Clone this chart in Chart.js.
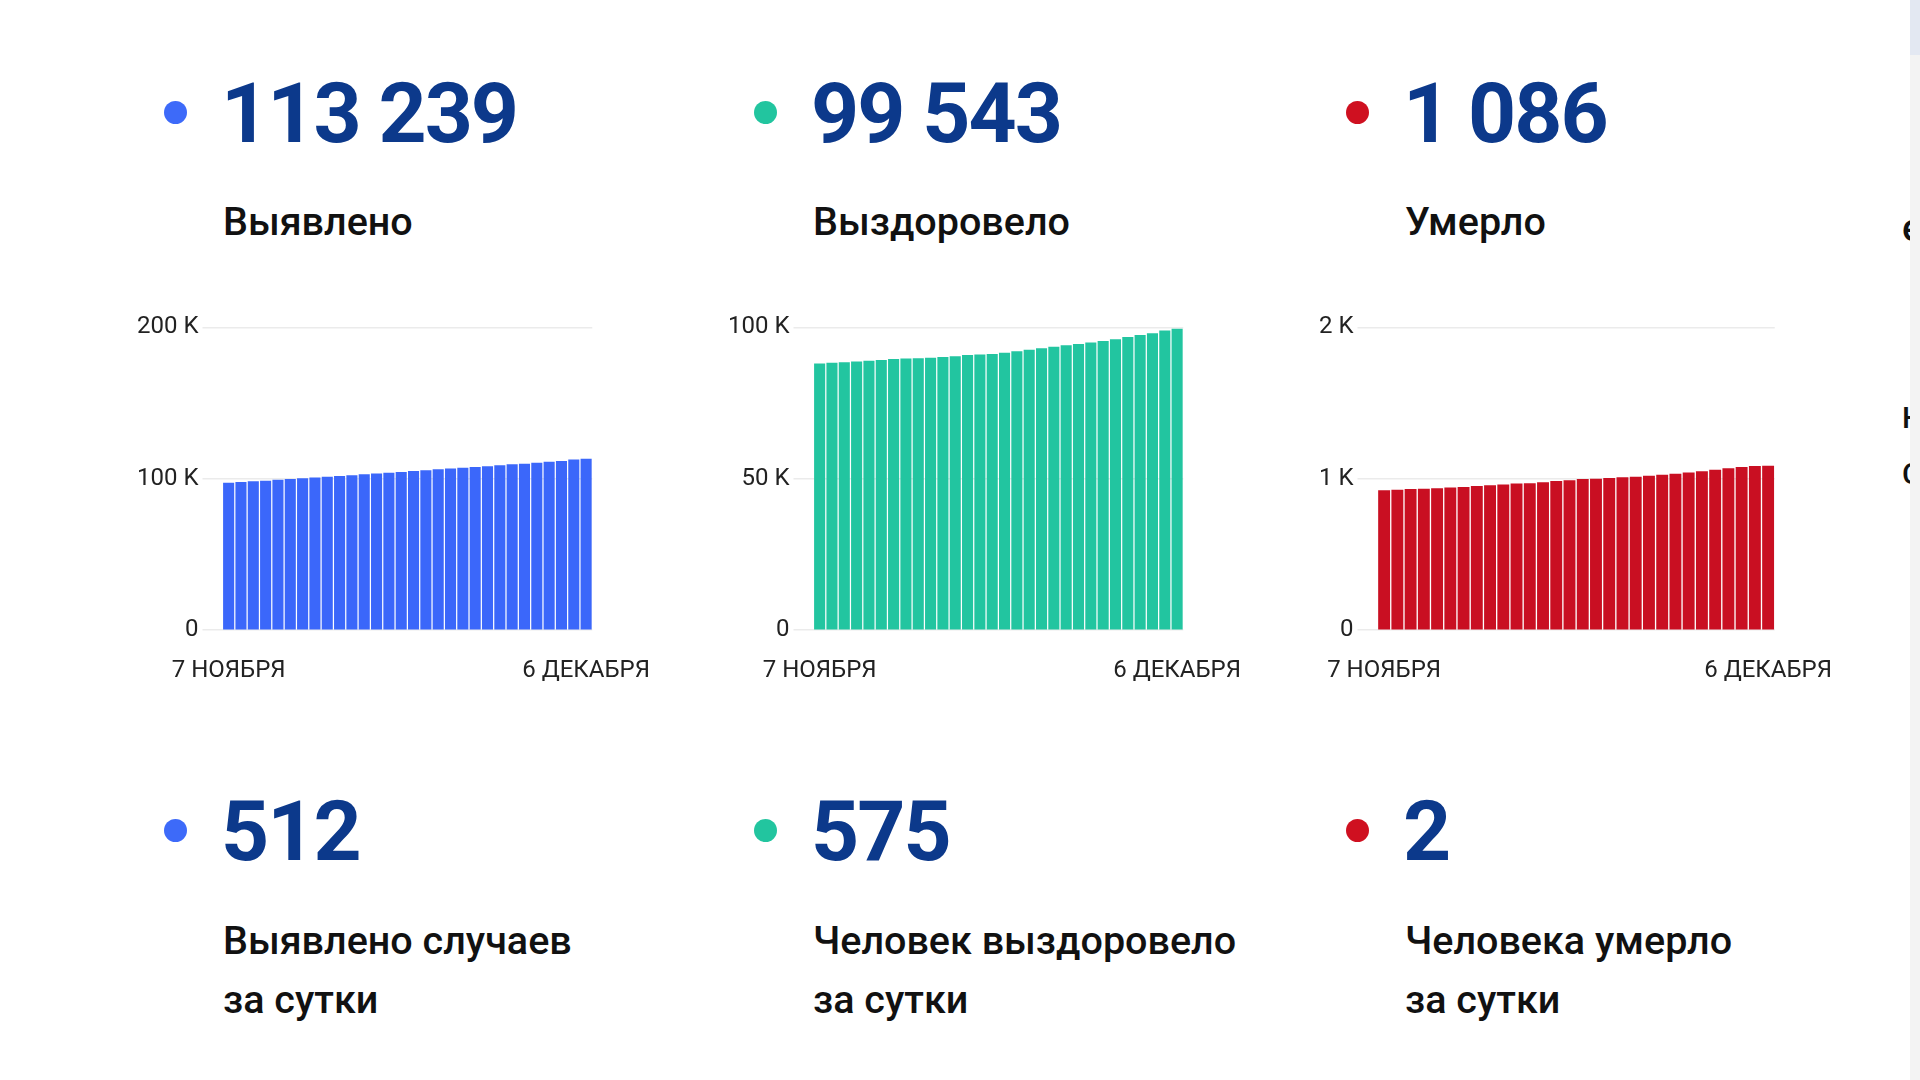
<!DOCTYPE html>
<html lang="ru">
<head>
<meta charset="utf-8">
<title>Коронавирус: статистика</title>
<script src="https://cdn.jsdelivr.net/npm/chart.js@4/dist/chart.umd.min.js"></script>
<style>
  html, body {
    margin: 0;
    width: 1920px;
    height: 1080px;
    background: #ffffff;
    overflow: hidden;
    font-family: Roboto, "Noto Sans", sans-serif;
  }
  .dot {
    position: absolute;
    width: 23px;
    height: 23px;
    border-radius: 50%;
  }
  .num {
    position: absolute;
    font-weight: 700;
    font-size: 84px;
    line-height: 84px;
    letter-spacing: -2px;
    color: #0c398b;
    white-space: nowrap;
  }
  .lbl {
    position: absolute;
    font-weight: 500;
    font-size: 39.5px;
    line-height: 39.5px;
    color: #111111;
    white-space: nowrap;
  }
  .lbl.two {
    line-height: 59px;
  }
  .box {
    position: absolute;
    top: 309px;
    width: 521px;
    height: 380px;
  }
  .edge {
    position: absolute;
    left: 1880px;
    top: 0;
    width: 30px;
    height: 1080px;
    overflow: hidden;
  }
  .edge span {
    position: absolute;
    left: 22px;
    font-weight: 500;
    color: #111111;
  }
  .scroll {
    position: absolute;
    left: 1910px;
    top: 0;
    width: 10px;
    height: 1080px;
    background: #f3f3f3;
  }
  .scroll div {
    height: 55px;
    background: #e3e8f2;
  }
</style>
</head>
<body>

<!-- top row -->
<div class="dot" style="left:164px; top:101px; background:#3d6af9"></div>
<div class="num" style="left:221px; top:72px">113 239</div>
<div class="lbl" style="left:223px; top:202px">Выявлено</div>

<div class="dot" style="left:754px; top:101px; background:#22c59f"></div>
<div class="num" style="left:811px; top:72px">99 543</div>
<div class="lbl" style="left:813px; top:202px">Выздоровело</div>

<div class="dot" style="left:1346px; top:101px; background:#cf1020"></div>
<div class="num" style="left:1403px; top:72px">1 086</div>
<div class="lbl" style="left:1405px; top:202px">Умерло</div>

<!-- charts -->
<div class="box" style="left:133px"><canvas id="casesChart"></canvas></div>
<div class="box" style="left:724px"><canvas id="recoveredChart"></canvas></div>
<div class="box" style="left:1315px"><canvas id="deathsChart"></canvas></div>

<!-- bottom row -->
<div class="dot" style="left:164px; top:819px; background:#3d6af9"></div>
<div class="num" style="left:221px; top:790px">512</div>
<div class="lbl two" style="left:223px; top:911px">Выявлено случаев<br>за сутки</div>

<div class="dot" style="left:754px; top:819px; background:#22c59f"></div>
<div class="num" style="left:811px; top:790px">575</div>
<div class="lbl two" style="left:813px; top:911px">Человек выздоровело<br>за сутки</div>

<div class="dot" style="left:1346px; top:819px; background:#cf1020"></div>
<div class="num" style="left:1403px; top:790px">2</div>
<div class="lbl two" style="left:1405px; top:911px">Человека умерло<br>за сутки</div>

<!-- cut-off next column and scrollbar -->
<div class="edge">
  <span style="font-size:38px; top:206px">е</span>
  <span style="font-size:30px; top:400px">Н</span>
  <span style="font-size:30px; top:456px">С</span>
</div>
<div class="scroll"><div></div></div>

<script>
const days = [
  "7 НОЯБРЯ", "8 НОЯБРЯ", "9 НОЯБРЯ", "10 НОЯБРЯ", "11 НОЯБРЯ", "12 НОЯБРЯ",
  "13 НОЯБРЯ", "14 НОЯБРЯ", "15 НОЯБРЯ", "16 НОЯБРЯ", "17 НОЯБРЯ", "18 НОЯБРЯ",
  "19 НОЯБРЯ", "20 НОЯБРЯ", "21 НОЯБРЯ", "22 НОЯБРЯ", "23 НОЯБРЯ", "24 НОЯБРЯ",
  "25 НОЯБРЯ", "26 НОЯБРЯ", "27 НОЯБРЯ", "28 НОЯБРЯ", "29 НОЯБРЯ", "30 НОЯБРЯ",
  "1 ДЕКАБРЯ", "2 ДЕКАБРЯ", "3 ДЕКАБРЯ", "4 ДЕКАБРЯ", "5 ДЕКАБРЯ", "6 ДЕКАБРЯ",
];

// cumulative totals
const cases = [
  97350, 97820, 98300, 98760, 99350, 99830, 100320, 100910, 101420, 101900,
  102380, 102990, 103470, 103960, 104560, 105170, 105650, 106260, 106740, 107220,
  107830, 108310, 108920, 109530, 110010, 110610, 111180, 111700, 112727, 113239,
];
const recovered = [
  88100, 88300, 88500, 88750, 89000, 89250, 89550, 89700, 89800, 90000,
  90200, 90500, 90850, 91050, 91200, 91600, 92100, 92600, 93100, 93600,
  94100, 94500, 95000, 95500, 96100, 96800, 97500, 98100, 98968, 99543,
];
const deaths = [
  924, 928, 932, 934, 937, 942, 946, 952, 958, 963,
  969, 970, 977, 985, 991, 998, 1001, 1005, 1010, 1014,
  1020, 1027, 1034, 1041, 1050, 1060, 1069, 1078, 1084, 1086,
];

// y axis ticks
const casesTicks = [0, 100000, 200000];
const recoveredTicks = [0, 50000, 100000];
const deathsTicks = [0, 1000, 2000];

const tickFont = { family: "Roboto", size: 24 };

function makeChart(id, values, ticks, color) {
  const ctx = document.getElementById(id);

  return new Chart(ctx, {
    type: "bar",

    data: {
      labels: days,
      datasets: [
        {
          data: values,
          backgroundColor: color,
          barPercentage: 0.9,
          categoryPercentage: 1,
        },
      ],
    },

    options: {
      responsive: true,
      maintainAspectRatio: false,
      animation: false,

      plugins: {
        legend: { display: false },
        tooltip: { enabled: false },
      },

      scales: {
        x: {
          offset: true,
          grid: {
            display: false,
            drawTicks: true,
            tickLength: 22,
          },
          border: { display: false },
          ticks: {
            autoSkip: false,
            maxRotation: 0,
            padding: 4,
            color: "#222222",
            font: tickFont,
            callback(value, index) {
              return index === 0 || index === days.length - 1 ? days[index] : "";
            },
          },
        },

        y: {
          min: ticks[0],
          max: ticks[ticks.length - 1],
          grid: {
            color: "#ebebeb",
            lineWidth: 1.5,
            tickLength: 20,
          },
          border: { display: false },
          ticks: {
            stepSize: ticks[1] - ticks[0],
            padding: 4,
            color: "#222222",
            font: tickFont,
            callback(value) {
              return value === 0 ? "0" : value / 1000 + " K";
            },
          },
        },
      },
    },
  });
}

makeChart("casesChart", cases, casesTicks, "#3b67fa");
makeChart("recoveredChart", recovered, recoveredTicks, "#22c5a0");
makeChart("deathsChart", deaths, deathsTicks, "#c90f22");
</script>
</body>
</html>
